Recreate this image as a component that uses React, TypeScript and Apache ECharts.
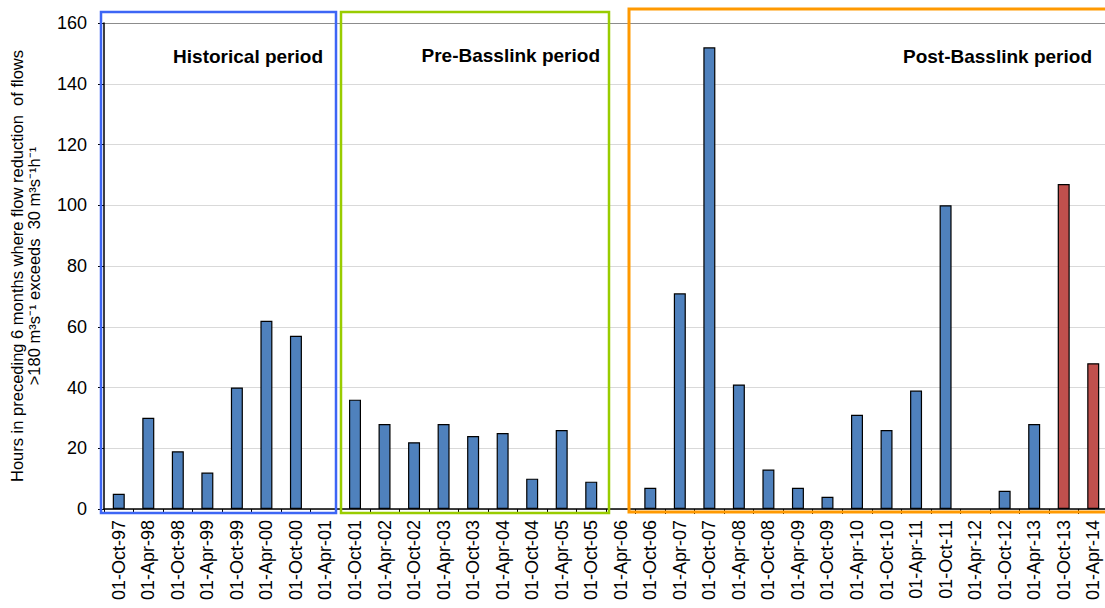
import React, { useEffect, useRef } from "react";
import * as echarts from "echarts";

const categories = [
  "01-Oct-97", "01-Apr-98", "01-Oct-98", "01-Apr-99", "01-Oct-99", "01-Apr-00", "01-Oct-00", "01-Apr-01",
  "01-Oct-01", "01-Apr-02", "01-Oct-02", "01-Apr-03", "01-Oct-03", "01-Apr-04", "01-Oct-04", "01-Apr-05",
  "01-Oct-05", "01-Apr-06", "01-Oct-06", "01-Apr-07", "01-Oct-07", "01-Apr-08", "01-Oct-08", "01-Apr-09",
  "01-Oct-09", "01-Apr-10", "01-Oct-10", "01-Apr-11", "01-Oct-11", "01-Apr-12", "01-Oct-12", "01-Apr-13",
  "01-Oct-13", "01-Apr-14",
];
const hours = [
  5, 30, 19, 12, 40, 62, 57, 0,
  36, 28, 22, 28, 24, 25, 10, 26,
  9, 0, 7, 71, 152, 41, 13, 7,
  4, 31, 26, 39, 100, 0, 6, 28,
  107, 48,
];
const highlighted = ["01-Oct-13", "01-Apr-14"];
const periodLabels = ["Historical period", "Pre-Basslink period", "Post-Basslink period"];
const yTicks = { min: 0, max: 160, interval: 20 };

const FONT = "Liberation Sans, Arial, sans-serif";

export default function App() {
  const ref = useRef<HTMLDivElement>(null);
  useEffect(() => {
    document.body.style.margin = "0";
    document.body.style.overflow = "hidden";
    if (!ref.current) return;
    const chart = echarts.init(ref.current, null, { renderer: "svg" });
    const splitColors = ["#d9d9d9", "#d9d9d9", "#d9d9d9", "#d9d9d9", "#d9d9d9", "#d9d9d9", "#d9d9d9", "#d9d9d9", "#8c8c8c"];
    chart.setOption({
      animation: false,
      backgroundColor: "#ffffff",
      textStyle: { fontFamily: FONT },
      grid: { left: 104, top: 23, width: 1004, height: 486, containLabel: false, outerBoundsMode: "none" },
      xAxis: {
        type: "category",
        data: categories,
        axisLine: { show: true, lineStyle: { color: "#000", width: 1.5 } },
        axisTick: { show: true, alignWithLabel: false, length: 5, lineStyle: { color: "#000" } },
        axisLabel: { interval: 0, rotate: 90, fontSize: 18, color: "#000", margin: 11, fontFamily: FONT },
      },
      yAxis: {
        type: "value",
        min: yTicks.min,
        max: yTicks.max,
        interval: yTicks.interval,
        name: "Hours in preceding 6 months where flow reduction  of flows\n>180 m³s⁻¹ exceeds  30 m³s⁻¹h⁻¹",
        nameLocation: "middle",
        nameRotate: 90,
        nameGap: 62,
        nameTextStyle: { fontSize: 16.5, color: "#000", lineHeight: 17, fontFamily: FONT },
        axisLine: { show: true, lineStyle: { color: "#000", width: 1.5 } },
        axisTick: { show: true, length: 6, lineStyle: { color: "#000" } },
        axisLabel: { fontSize: 18, color: "#000", margin: 17, fontFamily: FONT },
        splitLine: { show: true, lineStyle: { color: splitColors, width: 1 } },
      },
      series: [
        {
          type: "bar",
          barWidth: 12,
          data: hours.map((v, i) => ({
            value: v,
            itemStyle: {
              color: highlighted.includes(categories[i]) ? "#c0504d" : "#4f81bd",
              borderColor: "#000",
              borderWidth: v === 0 ? 0 : 1.2,
            },
          })),
        },
      ],
      graphic: [
        { type: "rect", shape: { x: 101, y: 12, width: 235, height: 501 }, style: { fill: "none", stroke: "#3d66f5", lineWidth: 2.5 }, z: 10 },
        { type: "rect", shape: { x: 341, y: 12, width: 268, height: 501 }, style: { fill: "none", stroke: "#99cc00", lineWidth: 2.5 }, z: 10 },
        { type: "rect", shape: { x: 629, y: 9, width: 490, height: 503 }, style: { fill: "none", stroke: "#ff9900", lineWidth: 3 }, z: 10 },
        { type: "text", x: 323, y: 56, style: { text: periodLabels[0], font: `bold 19px ${FONT}`, fill: "#000", textAlign: "right", textVerticalAlign: "middle" }, z: 11 },
        { type: "text", x: 600, y: 55, style: { text: periodLabels[1], font: `bold 19px ${FONT}`, fill: "#000", textAlign: "right", textVerticalAlign: "middle" }, z: 11 },
        { type: "text", x: 1092, y: 56, style: { text: periodLabels[2], font: `bold 19px ${FONT}`, fill: "#000", textAlign: "right", textVerticalAlign: "middle" }, z: 11 },
      ],
    });
    return () => chart.dispose();
  }, []);
  return <div ref={ref} style={{ width: 1105, height: 608 }} />;
}
